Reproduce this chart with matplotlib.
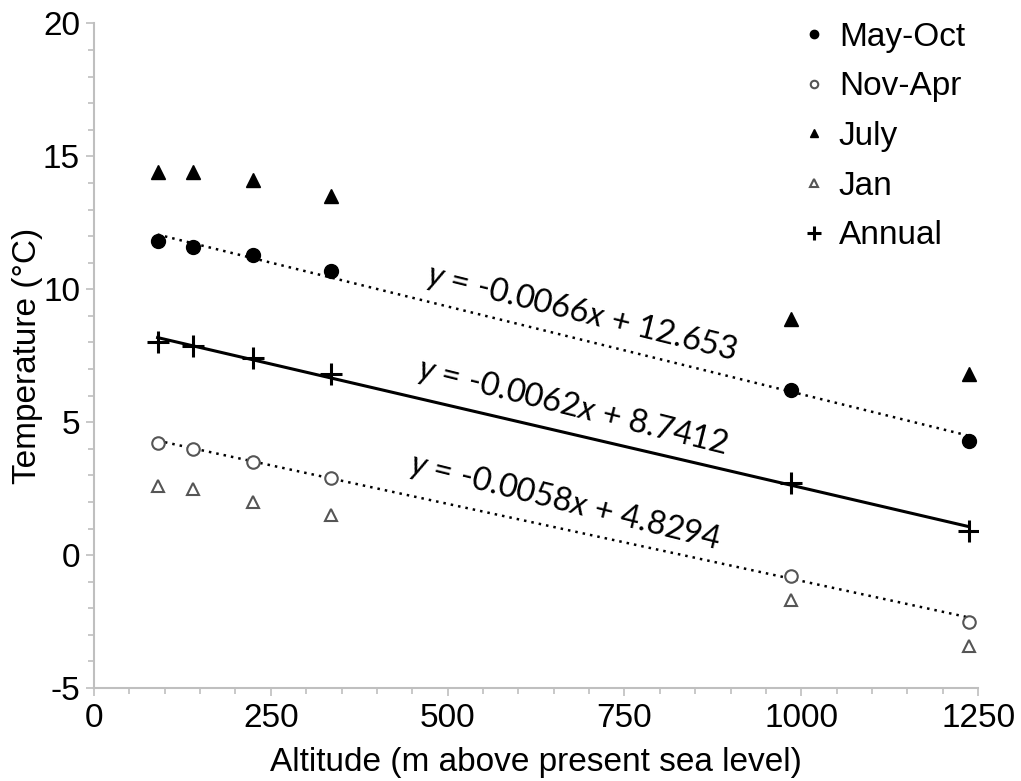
import numpy as np
import matplotlib
matplotlib.use("Agg")
import matplotlib.pyplot as plt
from matplotlib.ticker import MultipleLocator

# altitude of the stations (m) and mean temperatures (deg C)
altitude = [90, 140, 225, 335, 985, 1237]
may_oct = [11.8, 11.6, 11.3, 10.7, 6.2, 4.3]
nov_apr = [4.2, 4.0, 3.5, 2.9, -0.8, -2.5]
july = [14.4, 14.4, 14.1, 13.5, 8.9, 6.8]
jan = [2.6, 2.5, 2.0, 1.5, -1.7, -3.4]
annual = [8.0, 7.85, 7.4, 6.8, 2.7, 0.9]

# linear trends as printed on the chart (slope, intercept)
fit_may_oct = (-0.0066, 12.653)
fit_annual = (-0.0062, 8.7412)
fit_nov_apr = (-0.0058, 4.8294)

plt.rcParams['font.family'] = ['Liberation Sans', 'DejaVu Sans']
plt.rcParams['axes.unicode_minus'] = False
plt.rcParams['mathtext.fontset'] = 'custom'
plt.rcParams['mathtext.rm'] = 'Lato'
plt.rcParams['mathtext.it'] = 'Lato:italic'

fig = plt.figure(figsize=(10.21, 7.81), dpi=100)
ax = fig.add_axes([0.092, 0.119, 0.866, 0.851])

grey = '#555555'
ax.plot(altitude, may_oct, 'o', color='black', ms=10, label='May-Oct', zorder=3)
ax.plot(altitude, nov_apr, 'o', mfc='white', mec=grey, mew=1.5, ms=9, label='Nov-Apr', zorder=3)
ax.plot(altitude, july, '^', color='black', ms=10, label='July', zorder=3)
ax.plot(altitude, jan, '^', mfc='white', mec=grey, mew=1.5, ms=9, label='Jan', zorder=3)
ax.plot(altitude, annual, '+', color='black', ms=16, mew=2.2, label='Annual', zorder=3)

xs = np.array([altitude[0], altitude[-1]])
ax.plot(xs, fit_may_oct[0] * xs + fit_may_oct[1], color='black', lw=1.8, ls=(0, (1, 2)), zorder=2)
ax.plot(xs, fit_nov_apr[0] * xs + fit_nov_apr[1], color='black', lw=1.8, ls=(0, (1, 2)), zorder=2)
ax.plot(xs, fit_annual[0] * xs + fit_annual[1], color='black', lw=2.2, zorder=2)

def eq_text(fit):
    return r'$y$ = %s$x$ + %s' % (('%.4f' % fit[0]), ('%g' % fit[1]))

txt = dict(fontsize=23.5, family='Lato', rotation=-14, ha='center', va='center',
           rotation_mode='anchor')
ax.text(690, 9.12, eq_text(fit_may_oct), **txt)
ax.text(677, 5.58, eq_text(fit_annual), **txt)
ax.text(666, 2.0, eq_text(fit_nov_apr), **txt)

ax.set_xlim(0, 1250)
ax.set_ylim(-5, 20)
ax.xaxis.set_major_locator(MultipleLocator(250))
ax.xaxis.set_minor_locator(MultipleLocator(50))
ax.yaxis.set_major_locator(MultipleLocator(5))
ax.yaxis.set_minor_locator(MultipleLocator(1))

for s in ['top', 'right']:
    ax.spines[s].set_visible(False)
for s in ['left', 'bottom']:
    ax.spines[s].set_color('#bfbfbf')
    ax.spines[s].set_linewidth(1.5)
ax.tick_params(which='both', color='#bfbfbf', width=1.2, labelsize=24, direction='out')
ax.tick_params(which='major', length=6)
ax.tick_params(which='minor', length=4)
ax.tick_params(axis='y', which='major', pad=4)
ax.tick_params(axis='x', which='major', pad=5)

ax.set_xlabel('Altitude (m above present sea level)', fontsize=24, labelpad=9)
ax.set_ylabel('Temperature (°C)', fontsize=24, labelpad=0)

ax.legend(loc='upper right', bbox_to_anchor=(1.019, 1.048), frameon=False, fontsize=24,
          handlelength=0.5, handletextpad=0.5, labelspacing=0.56, markerscale=0.6)

fig.savefig('out.png', dpi=100)
